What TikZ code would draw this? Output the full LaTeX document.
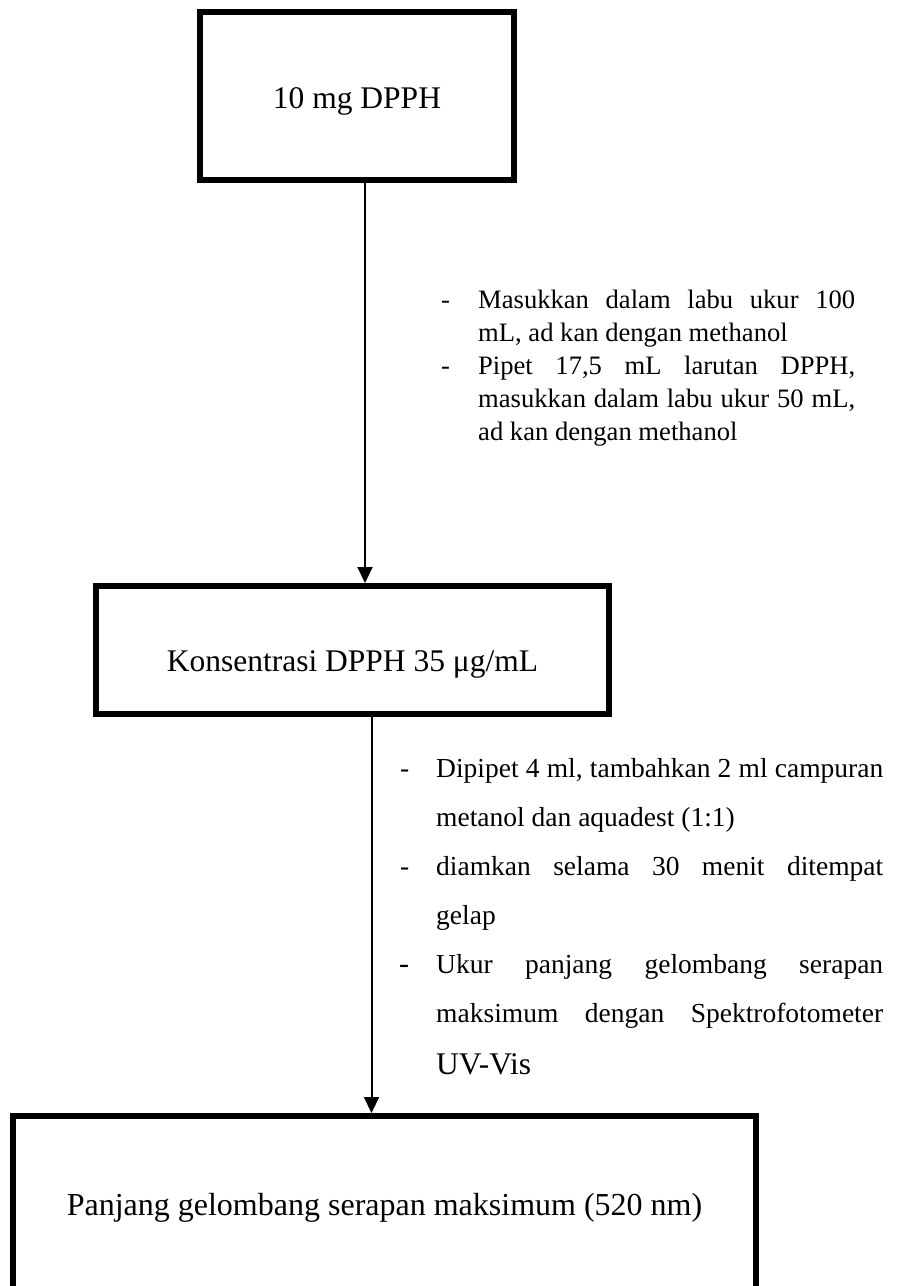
\documentclass[tikz,border=0pt]{standalone}
\usepackage{fontspec}
\setmainfont{Liberation Serif}
\usetikzlibrary{arrows.meta}

\begin{document}
\begin{tikzpicture}[x=1pt,y=-1pt,
  box/.style={draw, line width=6pt, inner sep=0pt, text depth=0pt},
  flow/.style={line width=2pt, -{Triangle[width=15pt,length=16pt]}},
  dashmark/.style={anchor=base west, inner sep=0pt},
  % multi-line notes are placed by the baseline of their last line
  note/.style={anchor=base west, inner sep=0pt, align=left},
  smallnote/.style={font=\fontsize{26.6}{33}\selectfont},
  bignote/.style={font=\fontsize{27.5}{49}\selectfont}]
\useasboundingbox (0,0) rectangle (897,1286);
\clip (0,0) rectangle (897,1286);

% process boxes
\node[box, minimum width=314pt, minimum height=168pt, text height=24pt,
      font=\fontsize{31.5}{38}\selectfont] (dpph) at (357,96) {10 mg DPPH};
\node[box, minimum width=513pt, minimum height=128pt, text height=42pt,
      font=\fontsize{31.5}{38}\selectfont] (conc) at (352.5,650) {Konsentrasi DPPH 35 μg/mL};
\node[box, minimum width=743pt, minimum height=178pt, text height=20pt,
      font=\fontsize{32}{38}\selectfont] (result) at (384.5,1205) {Panjang gelombang serapan maksimum (520 nm)};

% flow arrows
\draw[flow] ([xshift=8pt]dpph.south) -- ([xshift=12.5pt]conc.north);
\draw[flow] ([xshift=19pt]conc.south) -- ([xshift=-13pt]result.north);

% steps between the first two boxes
\node[dashmark, smallnote] (d1) at (441,308) {-};
\node[note, smallnote] (n1) at (478,341)
  {\makebox[377pt][s]{Masukkan dalam labu ukur 100}\\mL, ad kan dengan methanol};
\node[dashmark, smallnote] (d2) at (441,374) {-};
\node[note, smallnote] (n2) at (478,440)
  {\makebox[377pt][s]{Pipet 17,5 mL larutan DPPH,}\\\makebox[377pt][s]{masukkan dalam labu ukur 50 mL,}\\ad kan dengan methanol};

% steps between the second and third boxes
\node[dashmark, bignote] (d3) at (400,777) {-};
\node[note, bignote] (n3) at (436,826)
  {\makebox[447pt][s]{Dipipet 4 ml, tambahkan 2 ml campuran}\\metanol dan aquadest (1:1)};
\node[dashmark, bignote] (d4) at (400,875) {-};
\node[note, bignote] (n4) at (436,924)
  {\makebox[447pt][s]{diamkan selama 30 menit ditempat}\\gelap};
\node[dashmark, font=\fontsize{30}{49}\selectfont] (d5) at (399,973) {-};
\node[note, bignote] (n5) at (436,1074)
  {\makebox[447pt][s]{Ukur panjang gelombang serapan}\\\makebox[447pt][s]{maksimum dengan Spektrofotometer}\\[3pt]{\fontsize{31.5}{49}\selectfont UV-Vis}};
\end{tikzpicture}
\end{document}
